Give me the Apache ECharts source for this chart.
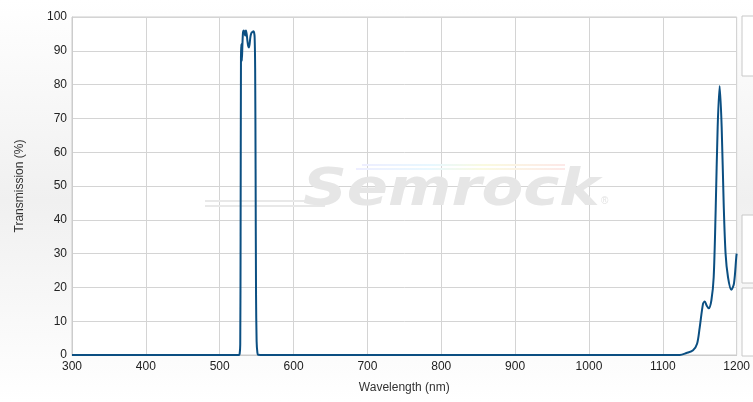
<!DOCTYPE html>
<html>
<head>
<meta charset="utf-8">
<script src="https://cdn.jsdelivr.net/npm/echarts@6/dist/echarts.min.js"></script>
<style>
html,body{margin:0;padding:0;}
#c{width:753px;height:402px;background:linear-gradient(to bottom,#ffffff 0%,#f0f0f0 50%,#ffffff 100%);}
</style>
</head>
<body>
<div id="c"></div>
<script>
const wavelength = [300, 520, 526, 527, 527.8, 528.3, 528.8, 529.3, 530, 530.8, 531.6, 532.5, 533.5, 534.5, 535.5, 536.5, 537.5, 538.5, 539.5, 540.5, 541.5, 542.5, 543.5, 544.5, 545.5, 546.5, 547.3, 548, 548.6, 549.2, 550, 551, 552, 560, 1000, 1110, 1123, 1132, 1141, 1146.4, 1150, 1154.5, 1156.8, 1159.5, 1162.2, 1165.8, 1168.9, 1171.6, 1174.3, 1177, 1179.7, 1182.4, 1185, 1188.3, 1192.8, 1196.4, 1199.5, 1200];
const transmission = [0, 0, 0, 0.3, 3, 35, 88, 92, 87, 92, 95.5, 96, 95.5, 94.5, 96, 95, 93, 91.5, 91, 92, 94, 95, 95.5, 95.5, 95.8, 95.5, 94, 85, 55, 18, 4, 0.8, 0.1, 0, 0, 0, 0, 0.6, 1.4, 3.3, 8.2, 15.2, 15.8, 14.6, 13.8, 16.2, 23, 43, 67.5, 79.6, 67.5, 45, 30, 23, 19.3, 21.2, 29, 30];
const xTicks = [300, 400, 500, 600, 700, 800, 900, 1000, 1100, 1200];
const yTicks = [0, 10, 20, 30, 40, 50, 60, 70, 80, 90, 100];

const chart = echarts.init(document.getElementById('c'), null, {renderer: 'canvas'});
const pts = wavelength.map((w, i) => [w, transmission[i]]);
const font = 'Liberation Sans, Arial, sans-serif';
const rainbow = () => new echarts.graphic.LinearGradient(0,0,1,0,[{offset:0,color:'#eeeeff'},{offset:0.35,color:'#e8f8ff'},{offset:0.6,color:'#fafae0'},{offset:1,color:'#fde8e8'}]);
chart.setOption({
  animation: false,
  grid: {left: 72, right: 16, top: 17, bottom: 47, show: true, backgroundColor: '#ffffff', borderColor: '#cccccc', borderWidth: 1},
  graphic: [
    {type: 'rect', shape: {x: 742, y: 16, width: 20, height: 60}, style: {fill: '#ffffff', stroke: '#c8c8c8', lineWidth: 1}},
    {type: 'rect', shape: {x: 742, y: 215, width: 20, height: 68}, style: {fill: '#ffffff', stroke: '#c8c8c8', lineWidth: 1}},
    {type: 'rect', shape: {x: 742, y: 288, width: 20, height: 68}, style: {fill: '#ffffff', stroke: '#c8c8c8', lineWidth: 1}},
    {type: 'line', z: 1, shape: {x1: 205, y1: 201, x2: 330, y2: 201}, style: {stroke: '#e8e8e8', lineWidth: 2}},
    {type: 'line', z: 1, shape: {x1: 205, y1: 206, x2: 325, y2: 206}, style: {stroke: '#e8e8e8', lineWidth: 2}},
    {type: 'text', z: 1, x: 303, y: 191, scaleX: 1.17, originX: 0, originY: 0, style: {text: 'Semrock', fill: '#e6e6e6', font: 'italic bold 52px DejaVu Sans, sans-serif', textVerticalAlign: 'middle'}},
    {type: 'line', z: 2, shape: {x1: 362, y1: 165, x2: 565, y2: 165}, style: {stroke: rainbow(), lineWidth: 2}},
    {type: 'line', z: 2, shape: {x1: 356, y1: 169, x2: 565, y2: 169}, style: {stroke: rainbow(), lineWidth: 2}},
    {type: 'text', z: 1, x: 601, y: 206, style: {text: '®', fill: '#e2e2e2', font: '10px Liberation Sans, Arial, sans-serif', textVerticalAlign: 'bottom'}}
  ],
  xAxis: {
    type: 'value', min: 300, max: 1200, interval: 100,
    name: 'Wavelength (nm)', nameLocation: 'middle', nameGap: 27,
    nameTextStyle: {color: '#333333', fontSize: 12, fontFamily: font},
    axisLine: {show: true, lineStyle: {color: '#cccccc'}},
    axisTick: {show: false},
    axisLabel: {color: '#222222', fontSize: 12, fontFamily: font, margin: 6,
      formatter: v => xTicks.includes(v) ? String(v) : ''},
    splitLine: {show: true, lineStyle: {color: '#d4d4d4'}}
  },
  yAxis: {
    type: 'value', min: 0, max: 100, interval: 10,
    name: 'Transmission (%)', nameLocation: 'middle', nameGap: 46,
    nameTextStyle: {color: '#333333', fontSize: 12, fontFamily: font},
    axisLine: {show: true, lineStyle: {color: '#cccccc'}},
    axisTick: {show: false},
    axisLabel: {color: '#222222', fontSize: 12, fontFamily: font, margin: 5,
      formatter: v => yTicks.includes(v) ? String(v) : ''},
    splitLine: {show: true, lineStyle: {color: '#d4d4d4'}}
  },
  series: [{
    type: 'line', data: pts, showSymbol: false, smooth: 0.3, z: 5,
    lineStyle: {color: '#0b4f82', width: 2}
  }]
});
</script>
</body>
</html>
